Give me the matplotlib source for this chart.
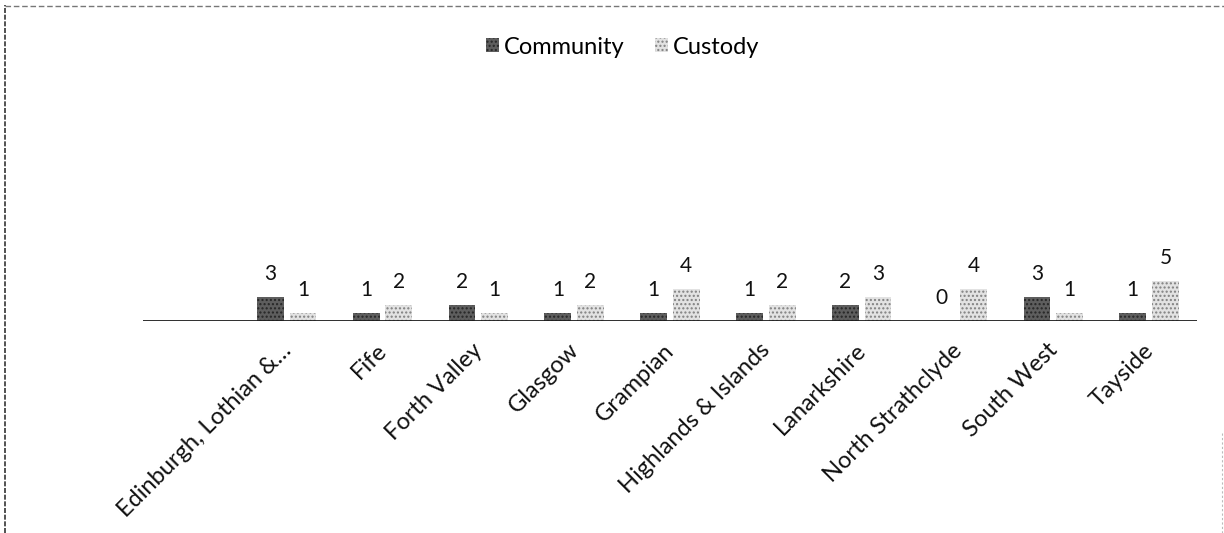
import numpy as np
import matplotlib
matplotlib.use("Agg")
import matplotlib.pyplot as plt
from matplotlib.lines import Line2D

plt.rcParams["font.family"] = ["Lato", "DejaVu Sans"]
plt.rcParams["hatch.linewidth"] = 1.0

# data
regions = ["Edinburgh, Lothian &\u2026", "Fife", "Forth Valley", "Glasgow",
           "Grampian", "Highlands & Islands", "Lanarkshire",
           "North Strathclyde", "South West", "Tayside"]
community = [3, 1, 2, 1, 1, 1, 2, 0, 3, 1]
custody = [1, 2, 1, 2, 4, 2, 3, 4, 1, 5]

W, H = 1224, 533
fig = plt.figure(figsize=(W / 100, H / 100), dpi=100)
fig.patch.set_facecolor("white")

# plot area in pixels: x 143..1197, baseline at y=321
ax = fig.add_axes([143 / W, 1 - 321 / H, (1197 - 143) / W, (321 - 80) / H])
ax.set_xlim(-1.5, 9.5)
ax.set_ylim(0, 30.5)
for s in ax.spines.values():
    s.set_visible(False)
ax.set_xticks([])
ax.set_yticks([])
ax.patch.set_alpha(0)

x = np.arange(len(regions))
bw, off = 0.28, 0.17
b1 = ax.bar(x - off, community, bw, color="#5e5e5e", edgecolor="#262626",
            hatch="....", linewidth=0, label="Community", zorder=2)
b2 = ax.bar(x + off, custody, bw, color="#e2e2e2", edgecolor="#808080",
            hatch="....", linewidth=0, label="Custody", zorder=2)

ax.axhline(0, color="#1e1e1e", lw=1.3, zorder=3)

for bars, vals in ((b1, community), (b2, custody)):
    for r, v in zip(bars, vals):
        ax.annotate(str(v), xy=(r.get_x() + r.get_width() / 2, v),
                    xytext=(0, 13), textcoords="offset pixels",
                    ha="center", va="bottom", fontsize=15, color="#111111")

for i, lab in enumerate(regions):
    ax.annotate(lab, xy=(i, 0), xytext=(1, -26), textcoords="offset pixels",
                ha="right", va="center", rotation=45, rotation_mode="anchor",
                fontsize=17, color="#111111", annotation_clip=False)

fig.legend(handles=[b1, b2], labels=["Community", "Custody"],
           loc="center", bbox_to_anchor=(623 / W, 1 - 47 / H), ncol=2,
           frameon=False, fontsize=17, handlelength=0.55, handleheight=0.55,
           handletextpad=0.2, columnspacing=1.3)

# scan border remnants
fig.add_artist(Line2D([5 / W, 5 / W], [0, 1 - 5 / H], transform=fig.transFigure,
                      color="#333333", lw=1.2, ls=(0, (3, 1))))
fig.add_artist(Line2D([5 / W, 1], [1 - 6 / H, 1 - 6 / H], transform=fig.transFigure,
                      color="#777777", lw=1.0, ls=(0, (4, 2))))
fig.add_artist(Line2D([1222 / W, 1222 / W], [0, 1 - 432 / H], transform=fig.transFigure,
                      color="#bbbbbb", lw=0.8, ls=(0, (2, 2))))

fig.savefig("out.png", dpi=100)
